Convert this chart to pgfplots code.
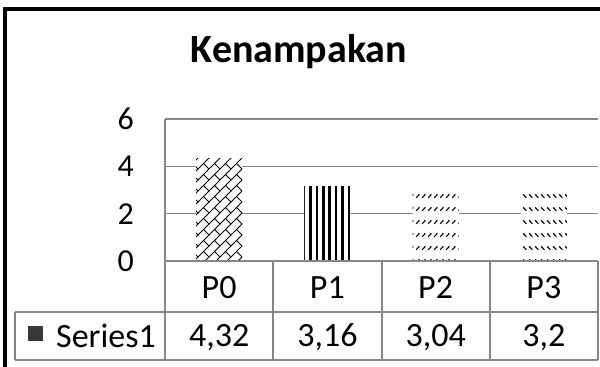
\documentclass[border=0pt]{standalone}
\usepackage{fontspec}
\setmainfont{Carlito}
\usepackage{pgfplots}
\usepackage{pgfplotstable}
\pgfplotsset{compat=1.18}
\usetikzlibrary{patterns}

\definecolor{gridgray}{RGB}{134,134,134}
\definecolor{keygray}{RGB}{56,56,56}

% diagonal brick
\pgfdeclarepatternformonly{brick}{\pgfqpoint{-1bp}{-1bp}}{\pgfqpoint{12bp}{12bp}}{\pgfqpoint{11bp}{11bp}}{%
  \pgfsetlinewidth{1bp}%
  \pgfpathmoveto{\pgfqpoint{0bp}{0bp}}\pgfpathlineto{\pgfqpoint{11bp}{11bp}}%
  \pgfpathmoveto{\pgfqpoint{5.5bp}{5.5bp}}\pgfpathlineto{\pgfqpoint{11bp}{0bp}}%
  \pgfusepath{stroke}}
% wide vertical lines
\pgfdeclarepatternformonly{wvert}{\pgfqpoint{0bp}{-1bp}}{\pgfqpoint{6.4bp}{1bp}}{\pgfqpoint{6.4bp}{1bp}}{%
  \pgfsetlinewidth{2.6bp}%
  \pgfpathmoveto{\pgfqpoint{3.2bp}{-1bp}}\pgfpathlineto{\pgfqpoint{3.2bp}{2bp}}%
  \pgfusepath{stroke}}
% dashed upward diagonal
\pgfdeclarepatternformonly{dashup}{\pgfqpoint{0bp}{0bp}}{\pgfqpoint{6.3bp}{12.6bp}}{\pgfqpoint{6.3bp}{12.6bp}}{%
  \pgfsetlinewidth{1.2bp}%
  \pgfpathmoveto{\pgfqpoint{1.3bp}{4.3bp}}\pgfpathlineto{\pgfqpoint{4.8bp}{7.8bp}}%
  \pgfusepath{stroke}}
% dashed downward diagonal
\pgfdeclarepatternformonly{dashdown}{\pgfqpoint{0bp}{0bp}}{\pgfqpoint{6.3bp}{12.6bp}}{\pgfqpoint{6.3bp}{12.6bp}}{%
  \pgfsetlinewidth{1.2bp}%
  \pgfpathmoveto{\pgfqpoint{1.3bp}{7.8bp}}\pgfpathlineto{\pgfqpoint{4.8bp}{4.3bp}}%
  \pgfusepath{stroke}}

\pgfplotstableread{
x y
0 4.32
1 3.16
2 3.04
3 3.2
}\data

\begin{document}
\begin{tikzpicture}
\useasboundingbox (0,0) rectangle (600bp,-367bp);

% chart frame (left and top edges)
\draw[line width=4bp] (5.3bp,-370bp) -- (5.3bp,-9bp) -- (605bp,-9bp);

\node[anchor=base, font=\fontsize{40bp}{46bp}\selectfont\bfseries] at (299bp,-62bp) {Kenampakan};

\begin{axis}[
  at={(165bp,-261bp)}, anchor=south west,
  scale only axis, width=433bp, height=142bp,
  xmin=-0.5, xmax=3.5, ymin=0, ymax=6,
  ytick={0,2,4,6},
  xtick={0,1,2,3}, xticklabels={P0,P1,P2,P3},
  major tick length=0pt,
  axis x line*=bottom, axis y line*=left,
  axis line style={gridgray, line width=1.2bp, -},
  ymajorgrids, grid style={gridgray, line width=1.2bp},
  /pgf/number format/assume math mode=true,
  /pgf/number format/use comma,
  yticklabel style={font=\fontsize{32bp}{36bp}\selectfont, anchor=east, inner sep=0pt, xshift=-31bp},
  xticklabel style={font=\fontsize{34bp}{38bp}\selectfont, anchor=base, inner sep=0pt, yshift=-37.5bp},
  clip=false,
  ybar, bar width=46bp,
]
\addplot[bar shift=0pt, draw=none, fill=white, postaction={pattern=brick},
  skip coords between index={1}{4}] table[x=x, y=y] {\data};
\addplot[bar shift=0pt, draw=none, fill=white, postaction={pattern=wvert},
  skip coords between index={0}{1}, skip coords between index={2}{4}] table[x=x, y=y] {\data};
\addplot[bar shift=0pt, draw=none, fill=white, postaction={pattern=dashup},
  skip coords between index={0}{2}, skip coords between index={3}{4}] table[x=x, y=y] {\data};
\addplot[bar shift=0pt, draw=none, fill=white, postaction={pattern=dashdown},
  skip coords between index={0}{3}] table[x=x, y=y] {\data};

% data table row with the series values
\pgfplotsinvokeforeach{0,...,3}{
  \pgfplotstablegetelem{#1}{y}\of\data
  \edef\tmp{\noexpand\node[anchor=base, inner sep=0pt, font=\noexpand\fontsize{34bp}{38bp}\noexpand\selectfont]
    at (axis cs:#1,-3.629) {\noexpand\pgfmathprintnumber{\pgfplotsretval}};}
  \tmp
}
\end{axis}

% data table grid
\begin{scope}[gridgray, line width=1.2bp]
  \draw (165bp,-261bp) -- (165bp,-360bp);
  \foreach \xx in {273,382,490,598} \draw (\xx bp,-261bp) -- (\xx bp,-360bp);
  \draw (165bp,-261bp) -- (598bp,-261bp);
  \draw (15bp,-312bp) -- (598bp,-312bp);
  \draw (15bp,-360bp) -- (598bp,-360bp);
  \draw (15bp,-312bp) -- (15bp,-360bp);
\end{scope}
\fill[keygray] (28bp,-341bp) rectangle (43bp,-326bp);
\node[anchor=base west, inner sep=0pt, font=\fontsize{34bp}{38bp}\selectfont] at (56bp,-347bp) {Series1};
\end{tikzpicture}
\end{document}
